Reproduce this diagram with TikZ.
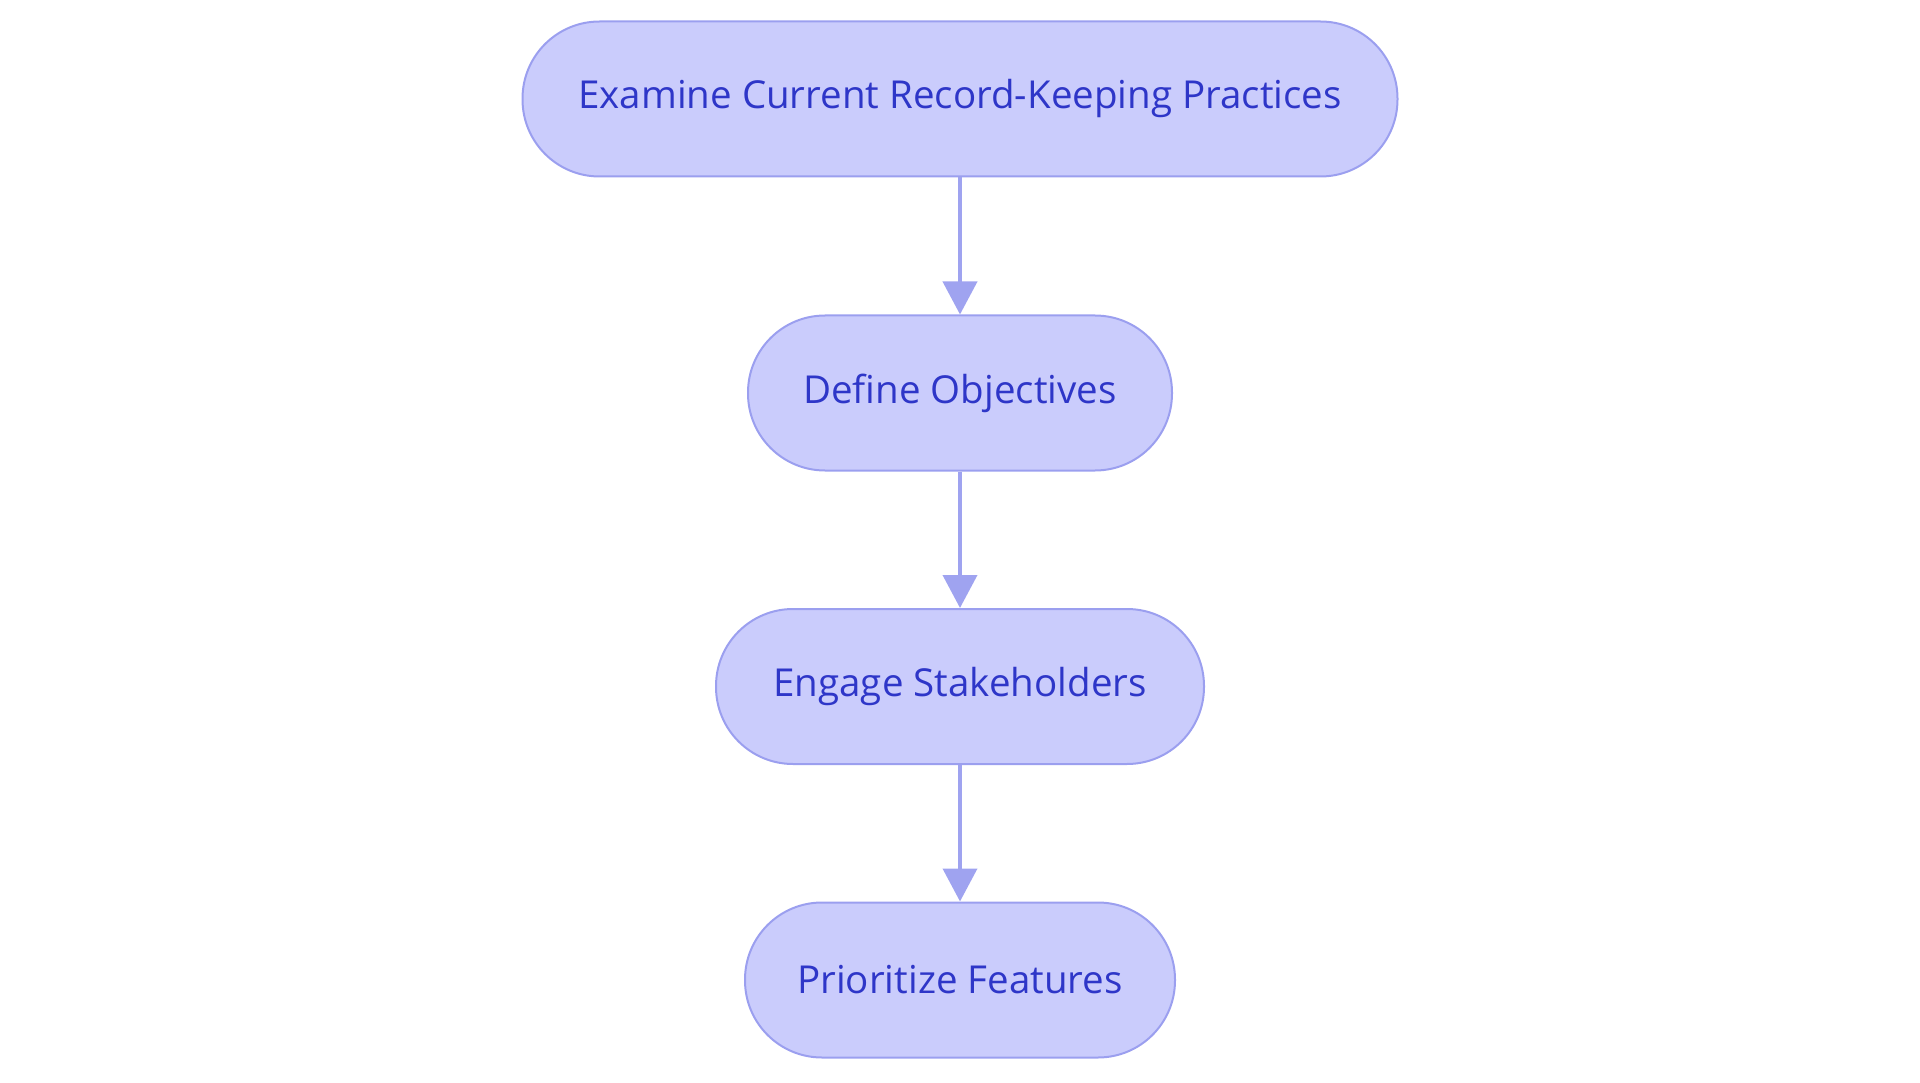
\documentclass[tikz,border=0pt]{standalone}
\usepackage{fontspec}
\setmainfont{Open Sans}
\usetikzlibrary{arrows.meta}
\definecolor{nodefill}{HTML}{CACCFC}
\definecolor{nodeborder}{HTML}{9B9FEF}
\definecolor{nodetext}{HTML}{2E36C8}
\definecolor{arrowcol}{HTML}{9FA3F0}
\begin{document}
\begin{tikzpicture}[x=1pt,y=-1pt,
  pill/.style={draw=nodeborder, fill=nodefill, line width=2pt, rounded corners=77pt,
    minimum height=155pt, text=nodetext, font=\fontsize{38.5pt}{44pt}\selectfont, inner sep=0pt},
  flow/.style={draw=arrowcol, line width=4pt, -{Triangle[width=34pt,length=33pt]}}]
\useasboundingbox (0,0) rectangle (1920,1083);
\node[pill, minimum width=875pt] (n1) at (960,99) {Examine Current Record-Keeping Practices};
\node[pill, minimum width=424pt] (n2) at (960,393) {Define Objectives};
\node[pill, minimum width=488pt] (n3) at (960,686.5) {Engage Stakeholders};
\node[pill, minimum width=430pt] (n4) at (960,980) {Prioritize Features};
\draw[flow] (n1) -- (n2);
\draw[flow] (n2) -- (n3);
\draw[flow] (n3) -- (n4);
\end{tikzpicture}
\end{document}
